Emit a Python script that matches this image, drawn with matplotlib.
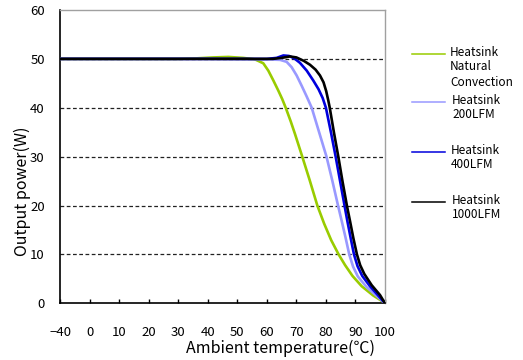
import numpy as np
import matplotlib
matplotlib.use("Agg")
import matplotlib.pyplot as plt
from matplotlib.lines import Line2D

plt.rcParams['font.family'] = ['Noto Sans CJK KR', 'DejaVu Sans']

# Derating curves: ambient temperature (°C) vs output power (W)
natural_t = [-40, 0, 30, 36, 42, 47, 52, 56, 58.8, 60.5, 62.2, 63.9, 65.2, 66.4,
             68.1, 69.5, 72, 74.5, 77.1, 79.4, 81.8, 84.3, 86.5, 89, 92.1, 96,
             99.4, 100]
natural_w = [50, 50, 50, 50.1, 50.3, 50.4, 50.2, 49.9, 49.1, 47.6, 45.6, 43.5,
             41.8, 40, 37.2, 34.7, 30, 25.2, 20, 16.3, 12.9, 10, 7.8, 5.6, 3.5,
             1.6, 0.3, 0]

lfm200_t = [-40, 0, 40, 60, 64.5, 66.7, 68.4, 70.1, 71.8, 73.5, 75.2, 77.6, 80.2,
            82.2, 84.1, 85.4, 86.7, 87.9, 89.2, 90.8, 93.8, 97.2, 100]
lfm200_w = [50, 50, 50, 49.9, 49.8, 49.4, 48.3, 46.6, 44.5, 42.3, 40, 35.2, 30,
            25, 20, 16.7, 13.3, 10, 7.5, 5.5, 3.3, 1.5, 0]

lfm400_t = [-40, 0, 40, 60, 63.3, 65.6, 67.5, 69.3, 71.2, 73.5, 75.7, 77.5, 78.9,
            80, 81.7, 83.3, 84.8, 86.3, 87.3, 88.4, 89.5, 90.7, 92.3, 94.9, 97.7,
            100]
lfm400_w = [50, 50, 50, 50, 50.2, 50.7, 50.6, 50.1, 49.2, 47.6, 45.6, 43.8, 42,
            40, 35, 30, 25, 20, 16.7, 13.3, 10, 7.6, 5.6, 3.5, 1.6, 0]

lfm1000_t = [-40, 0, 40, 62, 65, 67.8, 70, 72.5, 74.6, 76.5, 78, 79.2, 80.1, 80.8,
             81.3, 82.7, 84.2, 85.6, 87.1, 88.2, 89.3, 90.5, 91.6, 93, 95.5, 98.3,
             100]
lfm1000_w = [50, 50, 50, 50, 50.2, 50.5, 50.3, 49.6, 48.8, 47.8, 46.6, 45.2, 43.4,
             41.5, 40, 35, 30, 25, 20, 16.7, 13.3, 10, 7.8, 6, 3.7, 1.7, 0]

series_labels = ["Heatsink\nNatural\nConvection", "Heatsink\n200LFM",
                 "Heatsink\n400LFM", "Heatsink\n1000LFM"]
series_colors = ["#99cc00", "#9999ff", "#0000dd", "#000000"]

x_ticks = [-40, 0, 10, 20, 30, 40, 50, 60, 70, 80, 90, 100]
y_ticks = [0, 10, 20, 30, 40, 50, 60]
grid_levels = [10, 20, 30, 40, 50]


# The span -40..0 occupies one tick interval, like each 10 °C step above 0.
def fwd(t):
    t = np.asarray(t, dtype=float)
    return np.where(t < 0, (t + 40) / 40.0, 1 + t / 10.0)


def inv(p):
    p = np.asarray(p, dtype=float)
    return np.where(p < 1, p * 40.0 - 40, (p - 1) * 10.0)


fig = plt.figure(figsize=(5.23, 3.60), dpi=100)
ax = fig.add_axes([60 / 523, 1 - 303.3 / 360, 325 / 523, 293.3 / 360])
ax.set_xscale('function', functions=(fwd, inv))
ax.set_xlim(-40, 100)
ax.set_ylim(0, 60)

for lvl in grid_levels:
    ax.axhline(lvl, color='#222222', lw=0.9, ls=(0, (3, 2)), zorder=1)

series = [(natural_t, natural_w), (lfm200_t, lfm200_w),
          (lfm400_t, lfm400_w), (lfm1000_t, lfm1000_w)]
for (t, w), c in zip(series, series_colors):
    ax.plot(t, w, color=c, lw=1.9, solid_joinstyle='round',
            solid_capstyle='round', zorder=3)

ax.set_xticks(x_ticks)
ax.set_xticklabels([str(v).replace('-', '\u2212') for v in x_ticks])
ax.set_yticks(y_ticks)
ax.minorticks_off()
ax.tick_params(axis='x', direction='in', length=3, width=1, pad=16,
               labelsize=9.5, color='black')
ax.tick_params(axis='y', length=0, pad=11, labelsize=9.5)
for lab in ax.get_xticklabels() + ax.get_yticklabels():
    lab.set_fontweight('medium')

for s in ['left', 'bottom']:
    ax.spines[s].set_color('black')
    ax.spines[s].set_linewidth(1.2)
for s in ['top', 'right']:
    ax.spines[s].set_color('#a0a0a0')
    ax.spines[s].set_linewidth(1.0)

ax.set_xlabel("Ambient temperature(℃)", fontsize=11.5, labelpad=0,
              fontweight='medium')
ax.xaxis.set_label_coords(0.68, -0.125)
ax.set_ylabel("Output power(W)", fontsize=11.5, fontweight='medium')
ax.yaxis.set_label_coords(-0.088, 0.383)

# Legend entries drawn beside the plot
legend_y = [54, 102, 152, 202]
legend_text_x = [450, 452, 451, 452]
for lbl, c, y, tx in zip(series_labels, series_colors, legend_y, legend_text_x):
    yf = 1 - y / 360
    fig.add_artist(Line2D([412 / 523, 445 / 523], [yf, yf], color=c, lw=1.1,
                          transform=fig.transFigure))
    fig.text(tx / 523, yf + 8.5 / 360, lbl, fontsize=8.5, va='top', ha='left',
             linespacing=1.2, fontweight='medium')

fig.savefig("out.png", dpi=100)
